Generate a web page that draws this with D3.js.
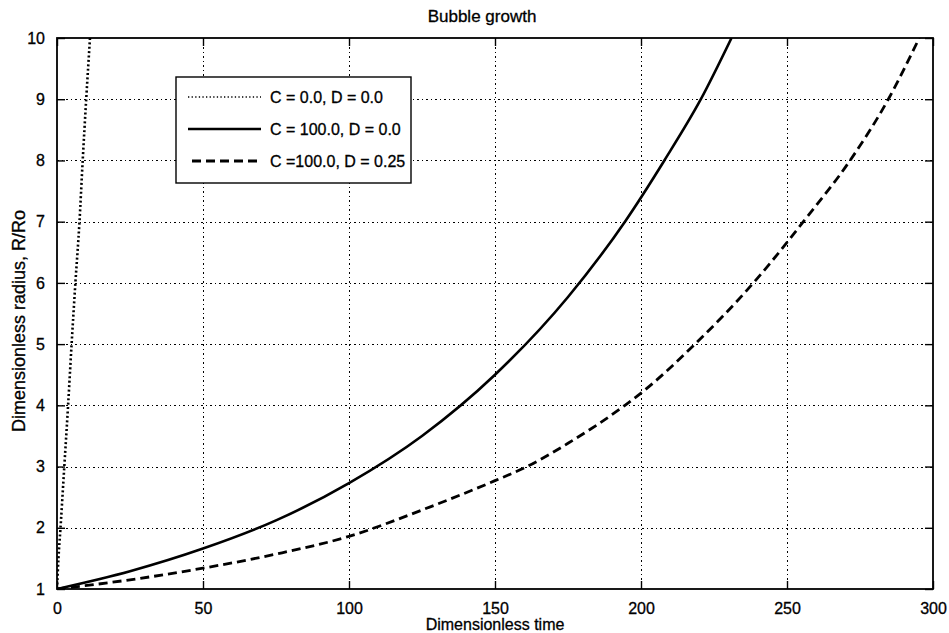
<!DOCTYPE html>
<html>
<head>
<meta charset="utf-8">
<script src="https://cdn.jsdelivr.net/npm/d3@7"></script>
<style>
  html, body { margin: 0; padding: 0; background: #fff; }
  svg { display: block; font-family: "Liberation Sans", Arial, sans-serif; }
  svg text { fill: #000; stroke: #000; stroke-width: 0.3px; }
</style>
</head>
<body>
<svg id="chart" width="949" height="633"></svg>
<script>
// Tick values
const xTicks = [0, 50, 100, 150, 200, 250, 300];
const yTicks = [1, 2, 3, 4, 5, 6, 7, 8, 9, 10];

// Legend labels
const seriesLabels = ["C = 0.0, D = 0.0", "C = 100.0, D = 0.0", "C =100.0, D = 0.25"];

// C = 0.0, D = 0.0
const t0 = [0, 0.5, 1.2, 2.5, 3.8, 5.0, 6.3, 7.7, 8.8, 10.0, 11.3];
const r0 = [1, 1.5, 2, 3, 4, 5, 6, 7, 8, 9, 10];

// C = 100.0, D = 0.0
const t1 = [0, 25, 50, 75, 100, 125, 150, 175, 194.5, 208, 220.5, 231];
const r1 = [1.0, 1.29, 1.66, 2.12, 2.73, 3.5, 4.5, 5.77, 7.0, 8.0, 9.0, 10.0];

// C = 100.0, D = 0.25
const t2 = [0, 25, 50, 75, 100, 125, 150, 161, 175, 194.5, 200, 218.5, 238.5, 250, 255.6, 271.6, 284.7, 295.3];
const r2 = [1.0, 1.15, 1.34, 1.57, 1.86, 2.29, 2.77, 3.0, 3.38, 4.0, 4.2, 5.0, 6.0, 6.66, 7.0, 8.0, 9.0, 10.0];

const plot = { left: 57, right: 933, top: 38, bottom: 589 };

const svg = d3.select("#chart");
const x = d3.scaleLinear().domain([0, 300]).range([plot.left, plot.right]);
const y = d3.scaleLinear().domain([1, 10]).range([plot.bottom, plot.top]);
const px = v => Math.round(v) + 0.5;

// Grid lines (dotted)
const grid = svg.append("g")
  .attr("stroke", "#000").attr("stroke-width", 1)
  .attr("stroke-dasharray", "1.5,3").attr("shape-rendering", "crispEdges");
grid.selectAll("line.gx").data(xTicks.slice(1, -1)).join("line")
  .attr("x1", d => px(x(d))).attr("x2", d => px(x(d)))
  .attr("y1", plot.top).attr("y2", plot.bottom);
grid.selectAll("line.gy").data(yTicks.slice(1, -1)).join("line")
  .attr("x1", plot.left).attr("x2", plot.right)
  .attr("y1", d => px(y(d))).attr("y2", d => px(y(d)));

// Clip curves to the axes box
svg.append("clipPath").attr("id", "clip").append("rect")
  .attr("x", plot.left).attr("y", plot.top)
  .attr("width", plot.right - plot.left).attr("height", plot.bottom - plot.top);

const line = d3.line().x(d => x(d[0])).y(d => y(d[1])).curve(d3.curveMonotoneX);
const zip = (a, b) => a.map((v, i) => [v, b[i]]);

const series = [
  { pts: zip(t0, r0), width: 2.6, dash: "2,2.4" },
  { pts: zip(t1, r1), width: 2.6, dash: null },
  { pts: zip(t2, r2), width: 2.8, dash: "9,5" }
];

const curves = svg.append("g").attr("clip-path", "url(#clip)");
series.forEach(s => {
  curves.append("path")
    .attr("d", line(s.pts))
    .attr("fill", "none")
    .attr("stroke", "#000")
    .attr("stroke-width", s.width)
    .attr("stroke-dasharray", s.dash);
});

// Axes: bottom, left, top, right with inward ticks
const tickLen = 8;
const fontSize = 16;
const axB = d3.axisBottom(x).tickValues(xTicks).tickSize(-tickLen).tickPadding(tickLen + 6).tickFormat(d3.format("d"));
const axL = d3.axisLeft(y).tickValues(yTicks).tickSize(-tickLen).tickPadding(tickLen + 4).tickFormat(d3.format("d"));
const axT = d3.axisTop(x).tickValues(xTicks).tickSize(-tickLen).tickFormat("");
const axR = d3.axisRight(y).tickValues(yTicks).tickSize(-tickLen).tickFormat("");

function styleAxis(g) {
  g.select(".domain").remove();
  g.selectAll(".tick line").attr("stroke", "#000").attr("stroke-width", 1.4);
  g.selectAll(".tick text")
    .style("font-family", '"Liberation Sans", Arial, sans-serif')
    .style("font-size", fontSize + "px");
}
svg.append("g").attr("transform", `translate(0,${plot.bottom})`).call(axB).call(styleAxis);
svg.append("g").attr("transform", `translate(${plot.left},0)`).call(axL).call(styleAxis);
svg.append("g").attr("transform", `translate(0,${plot.top})`).call(axT).call(styleAxis);
svg.append("g").attr("transform", `translate(${plot.right},0)`).call(axR).call(styleAxis);

// Axes box
svg.append("rect")
  .attr("x", plot.left).attr("y", plot.top)
  .attr("width", plot.right - plot.left).attr("height", plot.bottom - plot.top)
  .attr("fill", "none").attr("stroke", "#000").attr("stroke-width", 1.8);

// Legend
const legend = svg.append("g");
legend.append("rect")
  .attr("x", 176).attr("y", 77).attr("width", 235).attr("height", 106)
  .attr("fill", "#fff").attr("stroke", "#000").attr("stroke-width", 1.4);
const rowY = [97, 129, 161];
series.forEach((s, i) => {
  legend.append("line")
    .attr("x1", i === 2 ? 192 : 188).attr("x2", 261)
    .attr("y1", rowY[i]).attr("y2", rowY[i])
    .attr("stroke", "#000")
    .attr("stroke-width", i === 0 ? 1.5 : s.width)
    .attr("stroke-dasharray", i === 0 ? "1.3,2.3" : s.dash);
  legend.append("text")
    .attr("x", 270).attr("y", rowY[i])
    .attr("dy", "0.36em")
    .style("font-size", "16px")
    .text(seriesLabels[i]);
});

// Title and axis labels
svg.append("text")
  .attr("x", 482).attr("y", 22)
  .attr("text-anchor", "middle")
  .style("font-size", "17px")
  .text("Bubble growth");

svg.append("text")
  .attr("x", 495).attr("y", 630)
  .attr("text-anchor", "middle")
  .style("font-size", "16px")
  .text("Dimensionless time");

svg.append("text")
  .attr("transform", "translate(25,321) rotate(-90)")
  .attr("text-anchor", "middle")
  .style("font-size", "18px")
  .text("Dimensionless radius, R/Ro");
</script>
</body>
</html>
